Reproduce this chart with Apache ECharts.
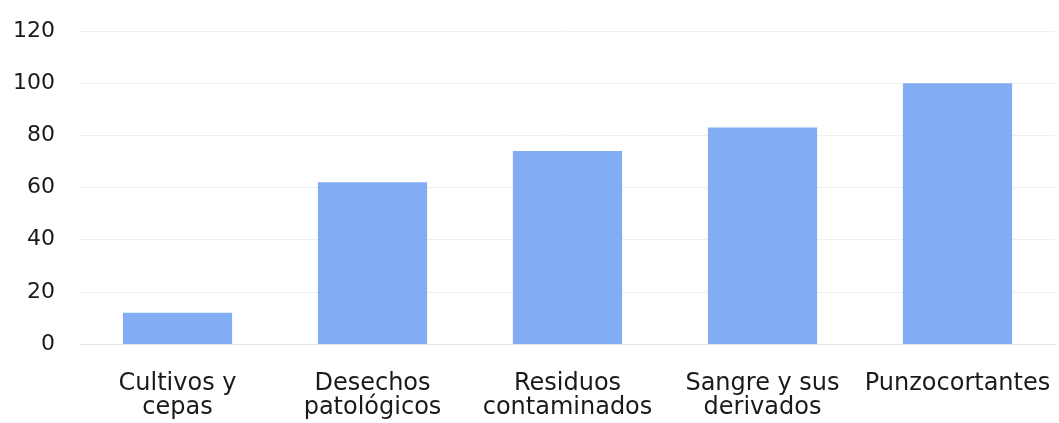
<!DOCTYPE html>
<html>
<head>
<meta charset="utf-8">
<style>
  html, body { margin: 0; padding: 0; background: #ffffff; }
  #chart { width: 1059px; height: 423px; }
</style>
<script src="https://cdn.jsdelivr.net/npm/echarts@6/dist/echarts.min.js"></script>
</head>
<body>
<div id="chart"></div>
<script>
// Waste categories and their values
const categories = [
  'Cultivos y\ncepas',
  'Desechos\npatológicos',
  'Residuos\ncontaminados',
  'Sangre y sus\nderivados',
  'Punzocortantes'
];
const values = [12, 62, 74, 83, 100];
const yTicks = { min: 0, max: 120, interval: 20 };

const chart = echarts.init(document.getElementById('chart'));
chart.setOption({
  animation: false,
  backgroundColor: '#ffffff',
  grid: { left: 80, right: 4, top: 31, bottom: 79 },
  xAxis: {
    type: 'category',
    data: categories,
    axisLine: { show: true, lineStyle: { color: '#e3e3e3', width: 1 } },
    axisTick: { show: false },
    axisLabel: {
      interval: 0,
      margin: 28,
      color: '#1a1a1a',
      fontFamily: 'DejaVu Sans',
      fontSize: 24,
      lineHeight: 24
    }
  },
  yAxis: {
    type: 'value',
    min: yTicks.min,
    max: yTicks.max,
    interval: yTicks.interval,
    axisLine: { show: false },
    axisTick: { show: false },
    splitLine: { lineStyle: { color: '#efefef', width: 1 } },
    axisLabel: {
      margin: 25,
      color: '#1a1a1a',
      fontFamily: 'DejaVu Sans',
      fontSize: 22
    }
  },
  series: [{
    type: 'bar',
    data: values,
    barCategoryGap: '44%',
    itemStyle: { color: '#82adf5' }
  }]
});
</script>
</body>
</html>
